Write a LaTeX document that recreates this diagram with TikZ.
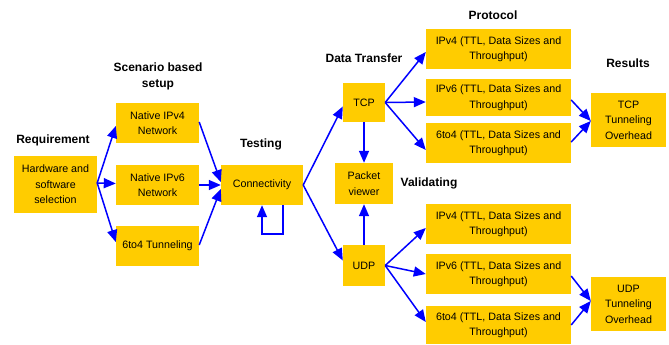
\documentclass[tikz,border=0pt]{standalone}
\usepackage{fontspec}
\setmainfont{Liberation Sans}
\usetikzlibrary{arrows.meta}
\definecolor{boxfill}{RGB}{255,204,0}
\definecolor{arrblue}{RGB}{0,0,255}
\tikzset{
  box/.style={fill=boxfill, draw=none, inner sep=1pt, align=center, font=\fontsize{10.7}{15.5}\selectfont},
  lbl/.style={font=\fontsize{12}{16}\selectfont\bfseries, align=center, inner sep=0pt},
  arr/.style={draw=arrblue, line width=1.5pt, -{Triangle[length=12pt,width=10pt]}},
}
\begin{document}
\begin{tikzpicture}[x=1pt,y=-1pt]
\useasboundingbox (0,0) rectangle (669,345);
% boxes
\node[box, minimum width=83pt, minimum height=57pt] (hw) at (55.5,184.5) {Hardware and\\software\\selection};
\node[box, minimum width=83pt, minimum height=40pt] (n4) at (157.5,123) {Native IPv4\\Network};
\node[box, minimum width=83pt, minimum height=40pt] (n6) at (157.5,185) {Native IPv6\\Network};
\node[box, minimum width=83pt, minimum height=40pt] (t64) at (157.5,246) {6to4 Tunneling};
\node[box, minimum width=82pt, minimum height=40pt] (conn) at (262,185) {Connectivity};
\node[box, minimum width=42pt, minimum height=39pt] (tcp) at (364,102.5) {TCP};
\node[box, minimum width=58pt, minimum height=41pt] (pv) at (364,183.5) {Packet\\viewer};
\node[box, minimum width=42pt, minimum height=41pt] (udp) at (364,265.5) {UDP};
\node[box, minimum width=145pt, minimum height=40pt] (p1) at (498.5,49) {IPv4 (TTL, Data Sizes and\\Throughput)};
\node[box, minimum width=145pt, minimum height=37pt] (p2) at (498.5,97.5) {IPv6 (TTL, Data Sizes and\\Throughput)};
\node[box, minimum width=145pt, minimum height=40pt] (p3) at (498.5,143) {6to4 (TTL, Data Sizes and\\Throughput)};
\node[box, minimum width=75pt, minimum height=54pt] (r1) at (628.5,120) {TCP\\Tunneling\\Overhead};
\node[box, minimum width=145pt, minimum height=40pt] (u1) at (498.5,224) {IPv4 (TTL, Data Sizes and\\Throughput)};
\node[box, minimum width=145pt, minimum height=40pt] (u2) at (498.5,274) {IPv6 (TTL, Data Sizes and\\Throughput)};
\node[box, minimum width=145pt, minimum height=38pt] (u3) at (498.5,325) {6to4 (TTL, Data Sizes and\\Throughput)};
\node[box, minimum width=75pt, minimum height=54pt] (r2) at (628.5,304) {UDP\\Tunneling\\Overhead};
% labels
\node[lbl] (lreq) at (53,140) {Requirement};
\node[lbl] (lscen) at (158,76.5) {Scenario based\\setup};
\node[lbl] (ltest) at (261,144) {Testing};
\node[lbl] (ldt) at (364,58) {Data Transfer};
\node[lbl] (lproto) at (493,15) {Protocol};
\node[lbl] (lval) at (429,183) {Validating};
\node[lbl] (lres) at (628,63) {Results};
% arrows
\coordinate (hwo) at ([yshift=1.5pt]hw.east);
\draw[arr] (hwo) -- ([yshift=-3pt]n4.west);
\draw[arr] (hwo) -- ([yshift=1.5pt]n6.west);
\draw[arr] (hwo) -- ([yshift=4pt]t64.west);
\draw[arr] ([yshift=1pt]n4.east) -- ([yshift=3pt]conn.west);
\draw[arr] (n6.east) -- (conn.west);
\draw[arr] ([yshift=1pt]t64.east) -- ([yshift=-4pt]conn.west);
\draw[arr] (conn.east) -- ([yshift=-4pt]tcp.west);
\draw[arr] (conn.east) -- ([yshift=5pt]udp.west);
\draw[arr] (tcp.south) -- (pv.north);
\draw[arr] (udp.north) -- (pv.south);
\coordinate (tcpo) at (tcp.east);
\draw[arr] (tcpo) -- ([yshift=-3pt]p1.west);
\draw[arr] (tcpo) -- ([yshift=-4.5pt]p2.west);
\draw[arr] (tcpo) -- ([yshift=-7pt]p3.west);
\coordinate (udpo) at (udp.east);
\draw[arr] (udpo) -- ([yshift=-4pt]u1.west);
\draw[arr] (udpo) -- (u2.west);
\draw[arr] (udpo) -- ([yshift=3pt]u3.west);
\draw[arr] ([yshift=-2.5pt]p2.east) -- ([yshift=-1pt]r1.west);
\draw[arr] ([yshift=1pt]p3.east) -- ([yshift=-1pt]r1.west);
\draw[arr] ([yshift=-2pt]u2.east) -- ([yshift=3pt]r2.west);
\draw[arr] ([yshift=-0pt]u3.east) -- ([yshift=3pt]r2.west);
% self loop
\coordinate (lp1) at ([xshift=21pt]conn.south);
\coordinate (lp2) at ([xshift=0pt]conn.south);
\draw[arr] (lp1) -- ++(0,29) -| (lp2);
\end{tikzpicture}
\end{document}
